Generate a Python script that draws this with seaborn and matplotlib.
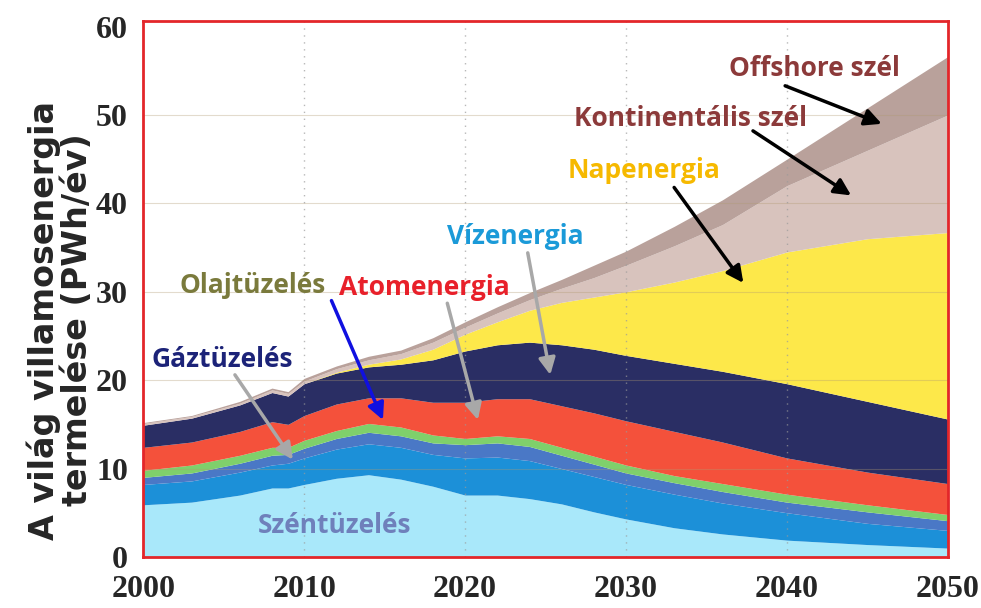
import numpy as np
import matplotlib
matplotlib.use("Agg")
import matplotlib.pyplot as plt
import seaborn as sns

years = [2000, 2003, 2006, 2008, 2009, 2010, 2012, 2014, 2016, 2018, 2020,
         2022, 2024, 2026, 2028, 2030, 2033, 2036, 2040, 2045, 2050]

# cumulative upper edge of each band (PWh/év)
top_szen = [5.9, 6.2, 7.0, 7.8, 7.8, 8.2, 8.9, 9.3, 8.8, 8.0, 7.0,
            7.0, 6.6, 6.0, 5.1, 4.3, 3.3, 2.6, 1.9, 1.4, 1.0]
top_kek = [8.2, 8.6, 9.6, 10.4, 10.6, 11.2, 12.2, 12.8, 12.4, 11.6, 11.2,
           11.3, 10.9, 10.0, 9.1, 8.2, 7.1, 6.1, 5.0, 3.8, 3.0]
top_pala = [9.0, 9.5, 10.6, 11.5, 11.6, 12.3, 13.4, 14.1, 13.7, 12.9, 12.7,
            12.9, 12.5, 11.5, 10.5, 9.5, 8.4, 7.4, 6.2, 5.1, 4.1]
top_zold = [9.8, 10.4, 11.5, 12.4, 12.4, 13.2, 14.3, 15.1, 14.7, 13.8, 13.4,
            13.7, 13.4, 12.4, 11.4, 10.4, 9.2, 8.3, 7.1, 5.9, 4.8]
top_piros = [12.4, 13.0, 14.2, 15.3, 15.0, 16.0, 17.3, 18.0, 18.0, 17.5, 17.5,
             17.9, 17.9, 17.1, 16.3, 15.4, 14.2, 13.0, 11.2, 9.6, 8.3]
top_sotet = [14.9, 15.7, 17.2, 18.6, 18.2, 19.6, 20.8, 21.5, 21.8, 22.3, 23.3,
             24.0, 24.3, 24.0, 23.5, 22.8, 21.9, 21.0, 19.6, 17.6, 15.6]
top_nap = [14.9, 15.7, 17.2, 18.6, 18.2, 19.6, 20.9, 21.8, 22.4, 23.5, 25.2,
           26.6, 27.9, 28.8, 29.4, 30.0, 31.1, 32.4, 34.5, 36.0, 36.7]
top_kont = [15.1, 15.9, 17.4, 18.9, 18.5, 19.9, 21.3, 22.3, 23.0, 24.3, 26.0,
            27.6, 29.1, 30.4, 31.6, 33.0, 35.2, 37.6, 42.0, 46.0, 50.0]
top_off = [15.2, 16.0, 17.6, 19.1, 18.7, 20.2, 21.6, 22.7, 23.4, 24.8, 26.6,
           28.3, 29.9, 31.4, 33.0, 34.6, 37.4, 40.4, 45.0, 50.8, 56.6]

band_tops = [top_szen, top_kek, top_pala, top_zold, top_piros,
             top_sotet, top_nap, top_kont, top_off]
band_colors = ["#a9e8fa", "#1c90d8", "#4a78c6", "#7fd06b", "#f4513b",
               "#2a2e64", "#fde84a", "#d8c3bd", "#b9a19b"]

# label text, text position, arrow tail, arrow head, text colour, arrow colour
labels = [
    ("Offshore szél", (2041.7, 55.3), (2039.9, 53.3), (2045.9, 49.0), "#8c3a3a", "black"),
    ("Kontinentális szél", (2034.0, 49.6), (2037.9, 48.2), (2044.0, 40.9), "#8c3a3a", "black"),
    ("Napenergia", (2031.1, 43.7), (2033.0, 41.8), (2037.3, 31.0), "#f6b900", "black"),
    ("Vízenergia", (2023.1, 36.2), (2023.9, 34.4), (2025.3, 20.6), "#1b9ad8", "#a8a8a8"),
    ("Atomenergia", (2017.5, 30.5), (2018.9, 28.7), (2020.8, 15.5), "#e8202a", "#a8a8a8"),
    ("Olajtüzelés", (2006.8, 30.7), (2011.7, 29.0), (2014.9, 15.5), "#7a7a3c", "#1010e0"),
    ("Gáztüzelés", (2004.9, 22.3), (2005.7, 20.6), (2009.3, 11.0), "#1c2378", "#a8a8a8"),
    ("Széntüzelés", (2011.9, 3.6), None, None, "#6f80bb", None),
]

sns.set_theme(style="white")
plt.rcParams["font.family"] = ["Open Sans", "DejaVu Sans"]

fig = plt.figure(figsize=(9.81, 6.08), dpi=100)
ax = fig.add_axes([0.146, 0.084, 0.82, 0.881])

x = np.array(years)
lower = np.zeros(len(years))
for tops, col in zip(band_tops, band_colors):
    upper = np.array(tops)
    ax.fill_between(x, lower, upper, color=col, linewidth=0, zorder=1)
    lower = upper

ax.set_xlim(2000, 2050)
ax.set_ylim(0, 60.6)
ax.set_xticks(range(2000, 2051, 10))
ax.set_yticks(range(0, 61, 10))

for yv in range(10, 60, 10):
    ax.axhline(yv, color="#b09a70", lw=0.8, alpha=0.35, zorder=2)
for xv in range(2010, 2050, 10):
    ax.axvline(xv, color="#9a9a9a", lw=1.0, ls=(0, (1, 4)), alpha=0.7, zorder=2)

for lab in ax.get_xticklabels() + ax.get_yticklabels():
    lab.set_family("Liberation Serif")
    lab.set_fontweight("bold")
    lab.set_fontsize(23)
ax.tick_params(axis="x", length=0, pad=13)
ax.tick_params(axis="y", length=3, pad=8)

for sp in ax.spines.values():
    sp.set_color("#e3262a")
    sp.set_linewidth(2)

fig.text(60 / 981, 1 - 320 / 608, "A világ villamosenergia\ntermelése (PWh/év)",
         family="DejaVu Sans", fontweight="bold", fontsize=24, rotation=90,
         ha="center", va="center", linespacing=1.0)

for text, pos, tail, head, tcol, acol in labels:
    ax.text(pos[0], pos[1], text, color=tcol, fontsize=19, fontweight="bold",
            ha="center", va="center", zorder=5)
    if tail is not None:
        ax.annotate("", xy=head, xytext=tail, zorder=5,
                    arrowprops=dict(arrowstyle="-|>", color=acol, lw=2.5,
                                    mutation_scale=25, shrinkA=0, shrinkB=0))

fig.savefig("out.png", dpi=100)
